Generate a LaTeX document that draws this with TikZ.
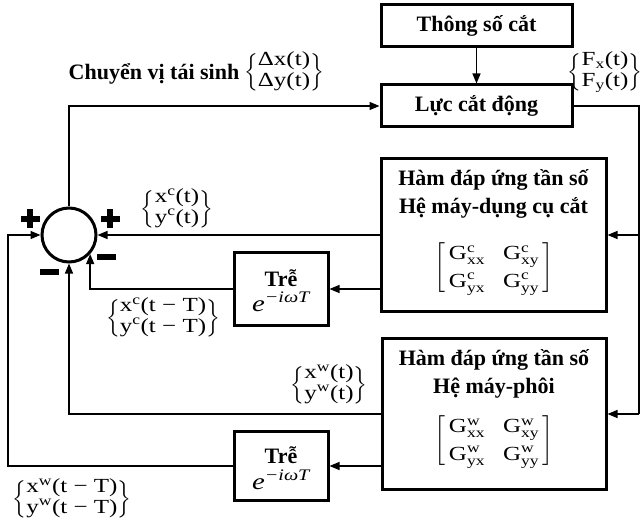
\documentclass[tikz,border=0pt]{standalone}
\usepackage{amsmath}
\usepackage{fontspec}
\setmainfont{Liberation Serif}
\newfontfamily\mfont[FakeStretch=1.25]{Liberation Serif}
\usetikzlibrary{arrows.meta,calc}
\newcommand\brc[2]{$\left\{\begin{array}{@{}l@{}}\text{#1}\\\text{#2}\end{array}\right\}$}
\newcommand\gmat[1]{{\renewcommand\arraystretch{1.3}$\left[\begin{array}{@{\,}l@{\hspace{18pt}}l@{\,}}
\text{G}^{\text{#1}}_{\text{xx}} & \text{G}^{\text{#1}}_{\text{xy}}\\
\text{G}^{\text{#1}}_{\text{yx}} & \text{G}^{\text{#1}}_{\text{yy}}\end{array}\right]$}}
\newcommand\delay{$\textit{e}^{\textit{−iωT}}$}
\begin{document}
\begin{tikzpicture}[x=1pt,y=-1pt,
  box/.style={draw,line width=3pt,inner sep=0pt},
  conn/.style={line width=1.4pt,-{Triangle[length=10pt,width=8pt]}},
  wire/.style={line width=1.4pt},
  btxt/.style={font=\fontsize{22}{26}\selectfont\bfseries,inner sep=0pt},
  mtxt/.style={font=\mfont\fontsize{20}{20.5}\selectfont,inner sep=0pt},
  gtxt/.style={font=\mfont\fontsize{20}{21}\selectfont,inner sep=0pt},
  etxt/.style={font=\mfont\fontsize{23}{24}\selectfont,inner sep=0pt},
  sign/.style={fill=black}]
\useasboundingbox (0,0) rectangle (644,526);
% boxes
\node[box,minimum width=191pt,minimum height=42pt] (ts) at (476.5,26) {};
\node[box,minimum width=191pt,minimum height=42pt] (lc) at (476.5,106) {};
\node[box,minimum width=225pt,minimum height=153pt] (h1) at (493.5,235) {};
\node[box,minimum width=224pt,minimum height=151pt] (h2) at (494,414) {};
\node[box,minimum width=94pt,minimum height=72pt] (t1) at (281,289) {};
\node[box,minimum width=94pt,minimum height=69pt] (t2) at (281,466) {};
\node[draw,circle,line width=3pt,minimum size=54pt,inner sep=0pt] (sum) at (69,235) {};
% box texts
\node[btxt] (tsT) at (ts.center) {Thông số cắt};
\node[btxt] (lcT) at (lc.center) {Lực cắt động};
\node[btxt] (h1a) at (493.5,180) {Hàm đáp ứng tần số};
\node[btxt] (h1b) at (493.5,208) {Hệ máy-dụng cụ cắt};
\node[gtxt] (h1m) at (494,268) {\gmat{c}};
\node[btxt] (h2a) at (494,360) {Hàm đáp ứng tần số};
\node[btxt] (h2b) at (494,388) {Hệ máy-phôi};
\node[gtxt] (h2m) at (494,441) {\gmat{w}};
\node[btxt] (t1a) at (281,278) {Trễ};
\node[etxt] (t1b) at (281,302) {\delay};
\node[btxt] (t2a) at (281,455) {Trễ};
\node[etxt] (t2b) at (281,480) {\delay};
% labels
\node[btxt] (cv) at (154,74) {Chuyển vị tái sinh};
\node[mtxt] (dl) at (284,72) {\brc{Δx(t)}{Δy(t)}};
\node[mtxt] (fl) at (605,72) {\brc{F$_\text{x}$(t)}{F$_\text{y}$(t)}};
\node[mtxt] (xcl) at (177,209) {\brc{x$^\text{c}$(t)}{y$^\text{c}$(t)}};
\node[mtxt] (xcT) at (163,318) {\brc{x$^\text{c}$(t − T)}{y$^\text{c}$(t − T)}};
\node[mtxt] (xwl) at (329,385) {\brc{x$^\text{w}$(t)}{y$^\text{w}$(t)}};
\node[mtxt] (xwT) at (72,499) {\brc{x$^\text{w}$(t − T)}{y$^\text{w}$(t − T)}};
% coordinates
\coordinate (rc) at (639,106);
\coordinate (rb) at (639,235);
\coordinate (lft) at (8,466);
% connectors
\draw[conn] (sum.north) |- (lc.west);
\draw[conn] (ts.south) -- (lc.north);
\draw[wire] (lc.east) -- (rc) -- (rc |- h2.east);
\draw[conn] (rc |- h2.east) -- (h2.east);
\draw[conn] (rb) -- (h1.east);
\draw[conn] (h1.west) -- (sum.east);
\draw[conn] (t1.east -| h1.west) -- (t1.east);
\draw[conn] (t1.west) -| (sum.-42);
\draw[conn] (h2.west) -| (sum.south);
\draw[conn] (t2.east -| h2.west) -- (t2.east);
\draw[conn] (t2.west) -- (lft) |- (sum.west);
% signs
\fill[sign] (20.5,216) rectangle (39.5,222);
\fill[sign] (27,209.5) rectangle (33,228.5);
\fill[sign] (100.5,216) rectangle (119.5,222);
\fill[sign] (107,209.5) rectangle (113,228.5);
\fill[sign] (39.5,269) rectangle (58.5,275);
\fill[sign] (96.5,254) rectangle (115.5,260);
\end{tikzpicture}
\end{document}
